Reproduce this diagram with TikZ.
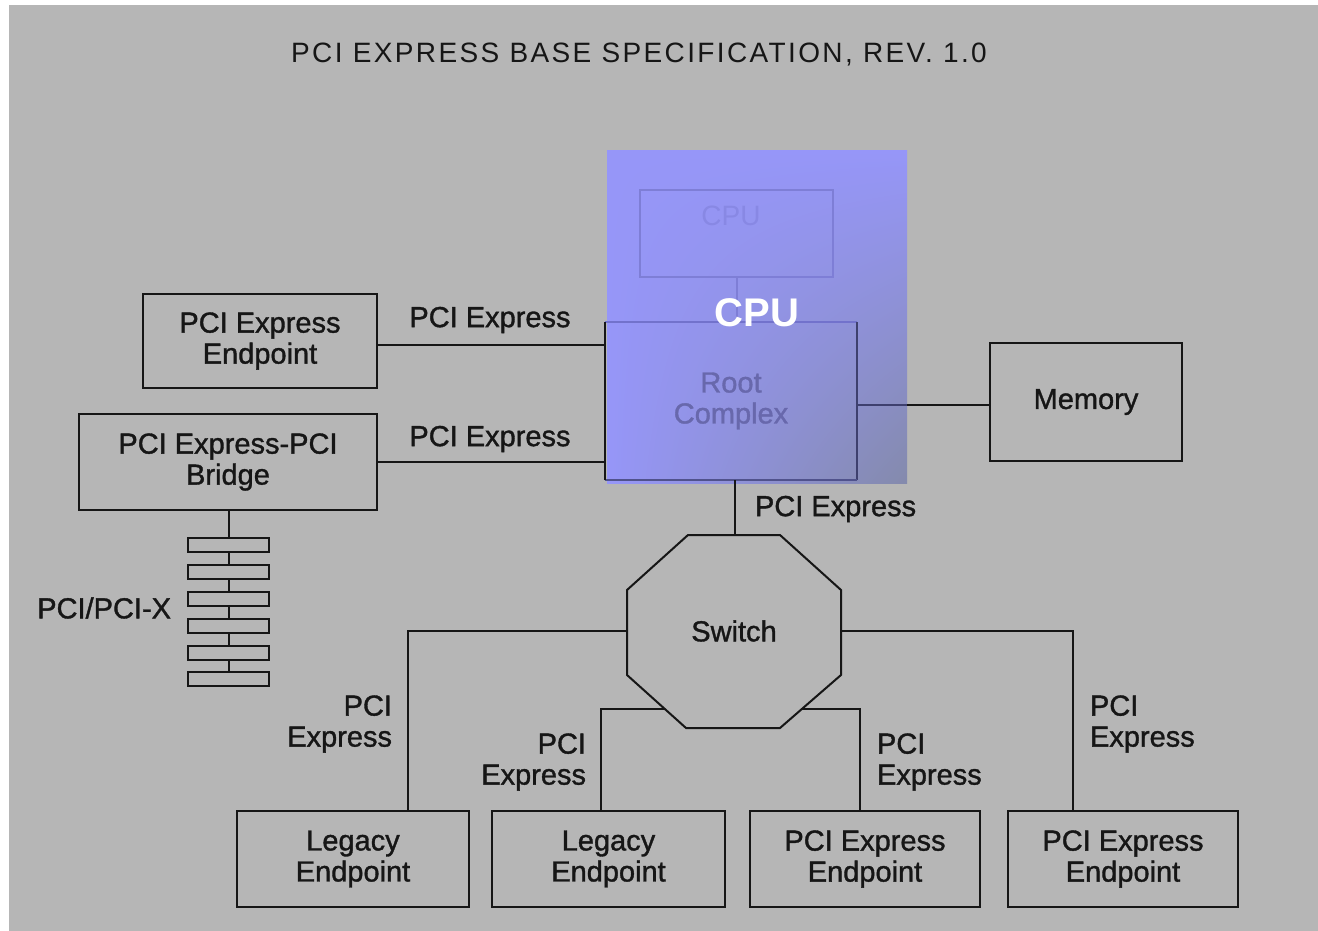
\documentclass[tikz,border=0pt]{standalone}
\usepackage{fontspec}
\setmainfont{Liberation Sans}
\newfontfamily\lblfont{Liberation Sans}[FakeBold=1.2]
\usetikzlibrary{shadings}
\definecolor{bg}{RGB}{182,182,182}
\definecolor{ink}{RGB}{22,22,22}
\definecolor{ovA}{RGB}{150,150,248}
\definecolor{ovB}{RGB}{132,138,172}
\definecolor{cpuline}{RGB}{126,126,214}
\definecolor{cputext}{RGB}{136,136,228}
\definecolor{rctop}{RGB}{114,114,204}
\definecolor{rcright}{RGB}{62,64,110}
\definecolor{rcbottom}{RGB}{80,82,140}
\definecolor{rctext}{RGB}{104,104,172}
\begin{document}
\begin{tikzpicture}[x=1pt,y=-1pt,
  line width=2pt,
  lbl/.style={font=\lblfont\fontsize{29}{31}\selectfont, text=ink, inner sep=0pt, align=center},
  box/.style={lbl, draw=ink, rectangle},
  slot/.style={draw=ink, fill=bg, line width=1.8pt, minimum width=81pt, minimum height=14pt, inner sep=0pt},
  wire/.style={draw=ink, line width=2pt},
]
\useasboundingbox (0,0) rectangle (1318,931);
\fill[bg] (9,5) rectangle (1318,931);

% heading
\node[font=\fontsize{28}{30}\selectfont\addfontfeature{LetterSpace=8.5}, text=ink, inner sep=0pt] (title) at (639,55) {PCI EXPRESS BASE SPECIFICATION, REV. 1.0};

% left side devices
\node[box, minimum width=234pt, minimum height=94pt] (pe1) at (260,341) {PCI Express\\Endpoint};
\node[box, minimum width=298pt, minimum height=96pt] (br) at (228,462) {PCI Express-PCI\\Bridge};

% memory
\node[box, minimum width=192pt, minimum height=118pt] (mem) at (1086,402) {Memory};

% PCI/PCI-X bus slots
\node[slot] (s1) at (228.5,545) {};
\node[slot] (s2) at (228.5,572) {};
\node[slot] (s3) at (228.5,599) {};
\node[slot] (s4) at (228.5,626) {};
\node[slot] (s5) at (228.5,653) {};
\node[slot] (s6) at (228.5,679) {};
\draw[wire] (br.south -| s1.north) -- (s1.north);
\draw[wire] (s1.south) -- (s2.north);
\draw[wire] (s2.south) -- (s3.north);
\draw[wire] (s3.south) -- (s4.north);
\draw[wire] (s4.south) -- (s5.north);
\draw[wire] (s5.south) -- (s6.north);
\node[lbl, anchor=east] (buslbl) at (172,608) {PCI/PCI-X};

% CPU overlay with the root complex seen through it
\node[inner sep=0pt, minimum width=298pt, minimum height=330pt] (ov) at (757,317) {};
\shade[upper left=ovA, upper right=ovA, lower left=ovA, lower right=ovB] (ov.north west) rectangle (ov.south east);
\node[draw=cpuline, minimum width=193pt, minimum height=87pt, inner sep=0pt] (cpu) at (736.5,233.5) {};
\node[font=\fontsize{28}{31}\selectfont, text=cputext, inner sep=0pt] (cputxt) at (731,216) {CPU};
\node[lbl, minimum width=250pt, minimum height=156pt, text=rctext] (rc) at (731,401) {Root\\Complex};
\draw[cpuline] (cpu.south) -- (cpu.south |- rc.north);
\draw[rctop] (rc.north west) -- (rc.north east);
\draw[rcright] (rc.north east) -- (rc.south east);
\draw[rcbottom] (rc.south east) -- (rc.south west);
\draw[ink] (rc.south west) -- (rc.north west);
\node[font=\bfseries\fontsize{40}{44}\selectfont, text=white, inner sep=0pt] (cpulbl) at (757,313) {CPU};

% links into the root complex
\draw[wire] ([yshift=-4pt]pe1.east) -- ([yshift=-4pt]pe1.east -| rc.west);
\draw[wire] (br.east) -- (br.east -| rc.west);
\draw[rcright] ([yshift=-4pt]rc.east) -- ([yshift=-4pt]rc.east -| ov.east);
\draw[wire] ([yshift=-4pt]rc.east -| ov.east) -- ([yshift=-4pt]rc.east -| mem.west);
\node[lbl] (l1) at (490,320) {PCI Express};
\node[lbl] (l2) at (490,439) {PCI Express};

% switch
\coordinate (swT) at (735,535);
\coordinate (swL) at (627,631);
\coordinate (swR) at (841,631);
\coordinate (swLL) at (665,709);
\coordinate (swLR) at (802,709);
\draw[wire] (688,535) -- (780,535) -- (841,590) -- (841,675) -- (780,728) -- (686,728) -- (627,675) -- (627,590) -- cycle;
\node[lbl] (sw) at (734,631) {Switch};
\draw[wire] (rc.south -| swT) -- (swT);
\node[lbl, anchor=west] (l3) at (754,509) {PCI Express};

% bottom endpoints
\node[box, minimum width=232pt, minimum height=96pt] (le1) at (353,859) {Legacy\\Endpoint};
\node[box, minimum width=233pt, minimum height=96pt] (le2) at (608.5,859) {Legacy\\Endpoint};
\node[box, minimum width=230pt, minimum height=96pt] (pe2) at (865,859) {PCI Express\\Endpoint};
\node[box, minimum width=230pt, minimum height=96pt] (pe3) at (1123,859) {PCI Express\\Endpoint};

\draw[wire] (swL) -| ([xshift=55pt]le1.north);
\draw[wire] (swLL) -| ([xshift=-7.5pt]le2.north);
\draw[wire] (swLR) -| ([xshift=-5pt]pe2.north);
\draw[wire] (swR) -| ([xshift=-50pt]pe3.north);

\node[lbl, align=right, anchor=east] (l4) at (393,724) {PCI\\Express};
\node[lbl, align=right, anchor=east] (l5) at (587,762) {PCI\\Express};
\node[lbl, align=left, anchor=west] (l6) at (876,762) {PCI\\Express};
\node[lbl, align=left, anchor=west] (l7) at (1089,724) {PCI\\Express};
\end{tikzpicture}
\end{document}
